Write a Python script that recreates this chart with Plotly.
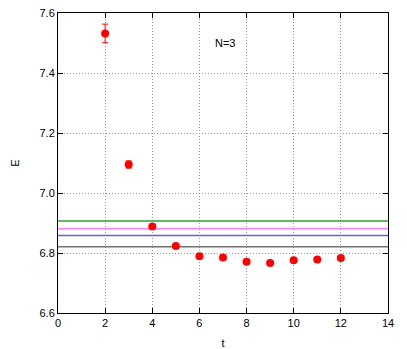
import plotly.graph_objects as go

t_vals = [2, 3, 4, 5, 6, 7, 8, 9, 10, 11, 12]
E_vals = [7.532, 7.095, 6.888, 6.823, 6.789, 6.785, 6.771, 6.767, 6.776, 6.778, 6.783]
E_err = [0.031, 0.012, 0.006, 0.003, 0.003, 0.003, 0.003, 0.003, 0.003, 0.003, 0.003]

line_levels = [6.907, 6.881, 6.858, 6.821]
line_colors = ["#2ca02c", "#ff80ff", "#6060e0", "#707070"]

x_ticks = [0, 2, 4, 6, 8, 10, 12, 14]
y_ticks = [6.6, 6.8, 7.0, 7.2, 7.4, 7.6]

fig = go.Figure()
for lvl, col in zip(line_levels, line_colors):
    fig.add_trace(go.Scatter(x=[0, 14], y=[lvl, lvl], mode="lines",
                             line=dict(color=col, width=1.5), showlegend=False,
                             hoverinfo="skip"))
fig.add_trace(go.Scatter(x=t_vals, y=E_vals, mode="markers",
                         marker=dict(color="red", size=8),
                         error_y=dict(type="data", array=E_err, color="red",
                                      thickness=1, width=3),
                         showlegend=False))

fig.add_annotation(x=7.1, y=7.5, text="N=3", showarrow=False,
                   font=dict(size=11, color="black"))

axis_common = dict(showline=True, linecolor="black", linewidth=1, mirror="ticks",
                   ticks="inside", ticklen=5, tickcolor="black",
                   showgrid=True, gridcolor="#999999", griddash="1px,2px", gridwidth=1,
                   zeroline=False, tickfont=dict(size=11, color="black"))

fig.update_xaxes(range=[0, 14], tickvals=x_ticks, ticktext=[str(v) for v in x_ticks],
                 title=dict(text="t", font=dict(size=11, color="black"), standoff=14),
                 **axis_common)
fig.update_yaxes(range=[6.6, 7.6], tickvals=y_ticks, ticktext=[f"{v:.1f}" for v in y_ticks],
                 title=dict(text="E", font=dict(size=11, color="black"), standoff=17),
                 **axis_common)

fig.update_layout(width=407, height=349,
                  margin=dict(l=58, r=19, t=13, b=36, autoexpand=False),
                  plot_bgcolor="white", paper_bgcolor="white",
                  font=dict(family="Liberation Sans, Arial, sans-serif", size=11, color="black"))

fig.write_html("out.html", config={"displayModeBar": False},
               post_script="document.body.style.margin='0';document.body.style.overflow='hidden';")
